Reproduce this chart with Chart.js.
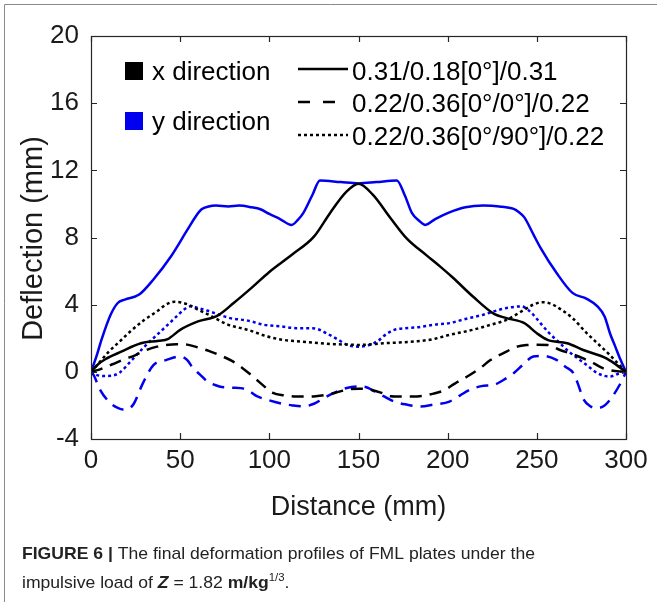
<!DOCTYPE html>
<html lang="en">
<head>
  <meta charset="UTF-8">
  <title>Final deformation profiles</title>
  <style>
    html, body { margin: 0; padding: 0; background: #fff; }
    #chartContainer { width: 657px; height: 602px; position: relative; }
  </style>
</head>
<body>
  <div id="chartContainer">
    <canvas id="myChart" width="657" height="602"></canvas>
  </div>

  <script src="https://cdn.jsdelivr.net/npm/chart.js@4.4.2/dist/chart.umd.min.js"></script>
  <script>
    // axis ticks
    const xTicks = [0, 50, 100, 150, 200, 250, 300];
    const yTicks = [-4, 0, 4, 8, 12, 16, 20];

    // x direction, 0.31/0.18[0°]/0.31 (solid)
    const xSolidDist = [0, 4, 8, 17, 28, 38, 43, 50, 60, 71, 80, 90, 100, 113, 125, 134, 143, 150, 158, 168, 177, 188, 196, 203, 214, 226, 233, 243, 250, 256, 267, 276, 289, 300];
    const xSolidDefl = [0, 0.45, 0.75, 1.2, 1.7, 1.85, 1.95, 2.5, 3.0, 3.35, 4.1, 5.0, 5.95, 7.0, 8.05, 9.45, 10.7, 11.2, 10.55, 9.15, 7.95, 6.95, 6.25, 5.6, 4.5, 3.45, 3.2, 2.9, 2.3, 1.9, 1.7, 1.3, 0.8, 0];

    // x direction, 0.22/0.36[0°/0°]/0.22 (dashed)
    const xDashDist = [0, 5, 12, 18, 25, 31, 37, 42, 48, 54, 60, 66, 72, 79, 85, 91, 97, 102, 108, 115, 120, 126, 132, 137, 144, 150, 156, 163, 168, 174, 180, 186, 192, 198, 204, 211, 218, 224, 231, 239, 245, 250, 256, 263, 270, 276, 282, 287, 292, 297, 300];
    const xDashDefl = [0, 0.15, 0.45, 0.72, 1.0, 1.3, 1.5, 1.6, 1.65, 1.62, 1.45, 1.25, 1.0, 0.65, 0.22, -0.3, -0.85, -1.25, -1.4, -1.47, -1.47, -1.45, -1.37, -1.25, -1.05, -1.0, -1.05, -1.25, -1.45, -1.47, -1.47, -1.43, -1.3, -1.1, -0.7, -0.28, 0.2, 0.7, 1.1, 1.5, 1.6, 1.62, 1.6, 1.3, 1.05, 0.8, 0.5, 0.22, 0.08, 0.02, 0];

    // x direction, 0.22/0.36[0°/90°]/0.22 (dotted)
    const xDotDist = [0, 5, 10, 16, 22, 30, 37, 42, 47, 51, 55, 60, 66, 77, 88, 99, 108, 118, 127, 136, 145, 150, 155, 164, 173, 183, 192, 201, 214, 224, 233, 243, 248, 253, 258, 263, 270, 278, 285, 290, 295, 300];
    const xDotDefl = [0, 0.6, 1.2, 1.8, 2.4, 3.1, 3.6, 4.0, 4.18, 4.12, 3.98, 3.7, 3.4, 2.8, 2.5, 2.1, 1.9, 1.8, 1.72, 1.65, 1.62, 1.6, 1.62, 1.7, 1.75, 1.82, 1.95, 2.2, 2.5, 2.8, 3.1, 3.7, 4.0, 4.15, 4.05, 3.75, 3.2, 2.3, 1.6, 1.1, 0.55, 0];

    // y direction, 0.31/0.18[0°]/0.31 (solid)
    const ySolidDist = [0, 3, 6, 11, 15, 19, 27, 35, 45, 54, 59, 62, 66, 70, 77, 83, 90, 95, 100, 106, 112.5, 116, 119, 124, 128.4, 140, 150, 160, 171.5, 176, 180, 184, 187.5, 193, 201, 210, 220, 229, 237, 240, 243, 248, 252, 261, 270, 278, 284, 288, 291, 294, 297, 300];
    const ySolidDefl = [0, 0.9, 1.95, 3.4, 4.1, 4.3, 4.6, 5.5, 6.9, 8.45, 9.3, 9.68, 9.85, 9.9, 9.85, 9.9, 9.8, 9.68, 9.4, 9.1, 8.75, 9.05, 9.45, 10.5, 11.4, 11.3, 11.22, 11.3, 11.4, 10.5, 9.45, 9.0, 8.75, 9.1, 9.5, 9.8, 9.9, 9.85, 9.7, 9.5, 9.2, 8.2, 7.4, 5.9, 4.7, 4.35, 3.9, 3.3, 2.3, 1.5, 0.7, 0];

    // y direction, 0.22/0.36[0°/0°]/0.22 (dashed)
    const yDashDist = [0, 1.5, 5, 10.7, 15, 18, 21, 24, 29, 35, 42, 50, 54, 57, 61, 65, 72, 79, 84, 88, 93, 100, 106, 113, 119, 125, 130, 136, 142, 146, 150, 154, 158, 164, 170, 177, 184.5, 192, 201, 207, 212.5, 219, 226, 231, 237, 242, 248, 253, 261, 266, 270.5, 273, 276, 280, 284, 288, 291, 297, 300];
    const yDashDefl = [0, -0.2, -1.05, -1.85, -2.15, -2.25, -2.2, -1.9, -0.7, 0.4, 0.7, 0.92, 0.7, 0.25, -0.15, -0.55, -0.87, -0.95, -0.97, -1.1, -1.45, -1.7, -1.87, -2.0, -2.06, -1.9, -1.6, -1.27, -1.0, -0.9, -0.87, -0.9, -1.1, -1.45, -1.77, -1.95, -2.06, -1.95, -1.77, -1.4, -1.07, -0.85, -0.77, -0.5, -0.08, 0.4, 0.91, 0.95, 0.71, 0.3, -0.08, -0.7, -1.6, -2.05, -2.16, -2.0, -1.67, -0.67, 0];

    // y direction, 0.22/0.36[0°/90°]/0.22 (dotted)
    const yDotDist = [0, 3, 7, 11, 16, 22, 30, 37, 43, 48, 52, 56, 60, 65, 72, 78, 88, 97, 107, 115, 122, 127, 132, 138, 144, 150, 156, 161, 165, 170, 176, 183, 192, 201, 210, 220, 229, 236, 241.5, 245, 248, 252, 257, 263, 268, 273, 278, 284, 291, 296, 300];
    const yDotDefl = [0, -0.18, -0.25, -0.24, -0.05, 0.6, 1.5, 2.2, 2.8, 3.3, 3.7, 3.9, 3.8, 3.65, 3.4, 3.2, 3.05, 2.8, 2.7, 2.6, 2.6, 2.55, 2.3, 1.95, 1.6, 1.5, 1.6, 1.85, 2.2, 2.5, 2.6, 2.65, 2.8, 2.9, 3.15, 3.4, 3.7, 3.85, 3.9, 3.7, 3.4, 2.9, 2.3, 1.7, 1.2, 0.8, 0.4, -0.08, -0.28, -0.1, 0];

    const BLUE = '#0000ee';
    const BLACK = '#000000';
    const FONT = '"Liberation Sans", Arial, Helvetica, sans-serif';

    const pts = (d, v) => d.map((x, i) => ({ x: x, y: v[i] }));

    function series(label, d, v, color, dash) {
      return {
        label: label,
        data: pts(d, v),
        borderColor: color,
        backgroundColor: color,
        borderWidth: 2.5,
        borderDash: dash,
        borderCapStyle: 'butt',
        pointRadius: 0,
        fill: false,
        cubicInterpolationMode: 'monotone'
      };
    }

    // frame, inner ticks, titles, legend and caption
    const decorPlugin = {
      id: 'decor',
      afterDraw(chart) {
        const { ctx, chartArea: a, scales: { x, y } } = chart;
        ctx.save();

        // page border (left / top)
        ctx.strokeStyle = '#8a8a8a';
        ctx.lineWidth = 1;
        ctx.beginPath();
        ctx.moveTo(4.5, 602); ctx.lineTo(4.5, 4.5); ctx.lineTo(657, 4.5);
        ctx.stroke();

        // axes box
        ctx.strokeStyle = '#262626';
        ctx.lineWidth = 1.2;
        ctx.strokeRect(a.left + 0.5, a.top + 0.5, a.right - a.left, a.bottom - a.top);
        ctx.beginPath();
        xTicks.forEach(v => {
          const px = Math.round(x.getPixelForValue(v)) + 0.5;
          ctx.moveTo(px, a.bottom); ctx.lineTo(px, a.bottom - 6);
          ctx.moveTo(px, a.top); ctx.lineTo(px, a.top + 6);
        });
        yTicks.forEach(v => {
          const py = Math.round(y.getPixelForValue(v)) + 0.5;
          ctx.moveTo(a.left, py); ctx.lineTo(a.left + 6, py);
          ctx.moveTo(a.right, py); ctx.lineTo(a.right - 6, py);
        });
        ctx.stroke();

        // axis titles
        ctx.fillStyle = '#1a1a1a';
        ctx.textAlign = 'center';
        ctx.textBaseline = 'middle';
        ctx.font = '27px ' + FONT;
        ctx.fillText('Distance (mm)', (a.left + a.right) / 2, 508);
        ctx.save();
        ctx.font = '29px ' + FONT;
        ctx.translate(34, (a.top + a.bottom) / 2 + 1);
        ctx.rotate(-Math.PI / 2);
        ctx.fillText('Deflection (mm)', 0, 0);
        ctx.restore();

        // legend: direction colours
        ctx.textAlign = 'left';
        ctx.textBaseline = 'alphabetic';
        ctx.font = '26px ' + FONT;
        ctx.fillStyle = BLACK;
        ctx.fillRect(125, 62, 18, 18);
        ctx.fillText('x direction', 152, 80);
        ctx.fillStyle = BLUE;
        ctx.fillRect(125, 112, 18, 18);
        ctx.fillStyle = BLACK;
        ctx.fillText('y direction', 152, 130);

        // legend: line styles
        const styles = [
          { dash: [], y: 69, label: '0.31/0.18[0°]/0.31', base: 80 },
          { dash: [12, 13], y: 102, label: '0.22/0.36[0°/0°]/0.22', base: 112 },
          { dash: [3, 3], y: 135, label: '0.22/0.36[0°/90°]/0.22', base: 145 }
        ];
        styles.forEach(s => {
          ctx.strokeStyle = BLACK;
          ctx.lineWidth = 2.5;
          ctx.setLineDash(s.dash);
          ctx.beginPath();
          ctx.moveTo(298, s.y); ctx.lineTo(348, s.y);
          ctx.stroke();
          ctx.setLineDash([]);
          ctx.fillText(s.label, 352, s.base);
        });

        // caption
        drawCaption(ctx);
        ctx.restore();
      }
    };

    function drawCaption(ctx) {
      const fam = '"Liberation Sans Narrow", "Arial Narrow", ' + FONT;
      const line1 = [
        { t: 'FIGURE 6 | ', f: 'bold 17px ' + fam },
        { t: 'The final deformation profiles of FML plates under the', f: '17px ' + fam }
      ];
      const line2 = [
        { t: 'impulsive load of ', f: '17px ' + fam },
        { t: 'Z', f: 'italic bold 17px ' + fam },
        { t: ' = 1.82 ', f: '17px ' + fam },
        { t: 'm/kg', f: 'bold 17px ' + fam },
        { t: '1/3', f: '11px ' + fam, up: 7 },
        { t: '.', f: '17px ' + fam }
      ];
      const width = parts => parts.reduce((s, p) => { ctx.font = p.f; return s + ctx.measureText(p.t).width; }, 0);
      const sx = 513 / width(line1);
      ctx.fillStyle = '#222';
      ctx.textAlign = 'left';
      ctx.textBaseline = 'alphabetic';
      [[line1, 559], [line2, 588]].forEach(([parts, base]) => {
        ctx.save();
        ctx.translate(22, base);
        ctx.scale(sx, 1);
        let cx = 0;
        parts.forEach(p => {
          ctx.font = p.f;
          ctx.fillText(p.t, cx, -(p.up || 0));
          cx += ctx.measureText(p.t).width;
        });
        ctx.restore();
      });
    }

    const ctx = document.getElementById('myChart').getContext('2d');
    const chart = new Chart(ctx, {
      type: 'line',
      data: {
        datasets: [
          series('x 0.31/0.18[0°]/0.31', xSolidDist, xSolidDefl, BLACK, []),
          series('x 0.22/0.36[0°/0°]/0.22', xDashDist, xDashDefl, BLACK, [12, 8]),
          series('x 0.22/0.36[0°/90°]/0.22', xDotDist, xDotDefl, BLACK, [3, 3]),
          series('y 0.31/0.18[0°]/0.31', ySolidDist, ySolidDefl, BLUE, []),
          series('y 0.22/0.36[0°/0°]/0.22', yDashDist, yDashDefl, BLUE, [12, 8]),
          series('y 0.22/0.36[0°/90°]/0.22', yDotDist, yDotDefl, BLUE, [3, 3])
        ]
      },
      options: {
        responsive: false,
        animation: false,
        devicePixelRatio: 1,
        layout: { padding: { left: 0, right: 31, top: 36, bottom: 0 } },
        scales: {
          x: {
            type: 'linear',
            min: 0, max: 300,
            afterFit: s => { s.height = 163; },
            afterBuildTicks: s => { s.ticks = xTicks.map(v => ({ value: v })); },
            grid: { display: false, drawTicks: false },
            border: { display: false },
            ticks: { font: { family: FONT, size: 26 }, color: '#1a1a1a', padding: 6, maxRotation: 0 }
          },
          y: {
            min: -4, max: 20,
            afterFit: s => { s.width = 91; },
            afterBuildTicks: s => { s.ticks = yTicks.map(v => ({ value: v })); },
            grid: { display: false, drawTicks: false },
            border: { display: false },
            ticks: { font: { family: FONT, size: 26 }, color: '#1a1a1a', padding: 12 }
          }
        },
        plugins: {
          legend: { display: false },
          tooltip: { enabled: false }
        }
      },
      plugins: [decorPlugin]
    });
  </script>
</body>
</html>
